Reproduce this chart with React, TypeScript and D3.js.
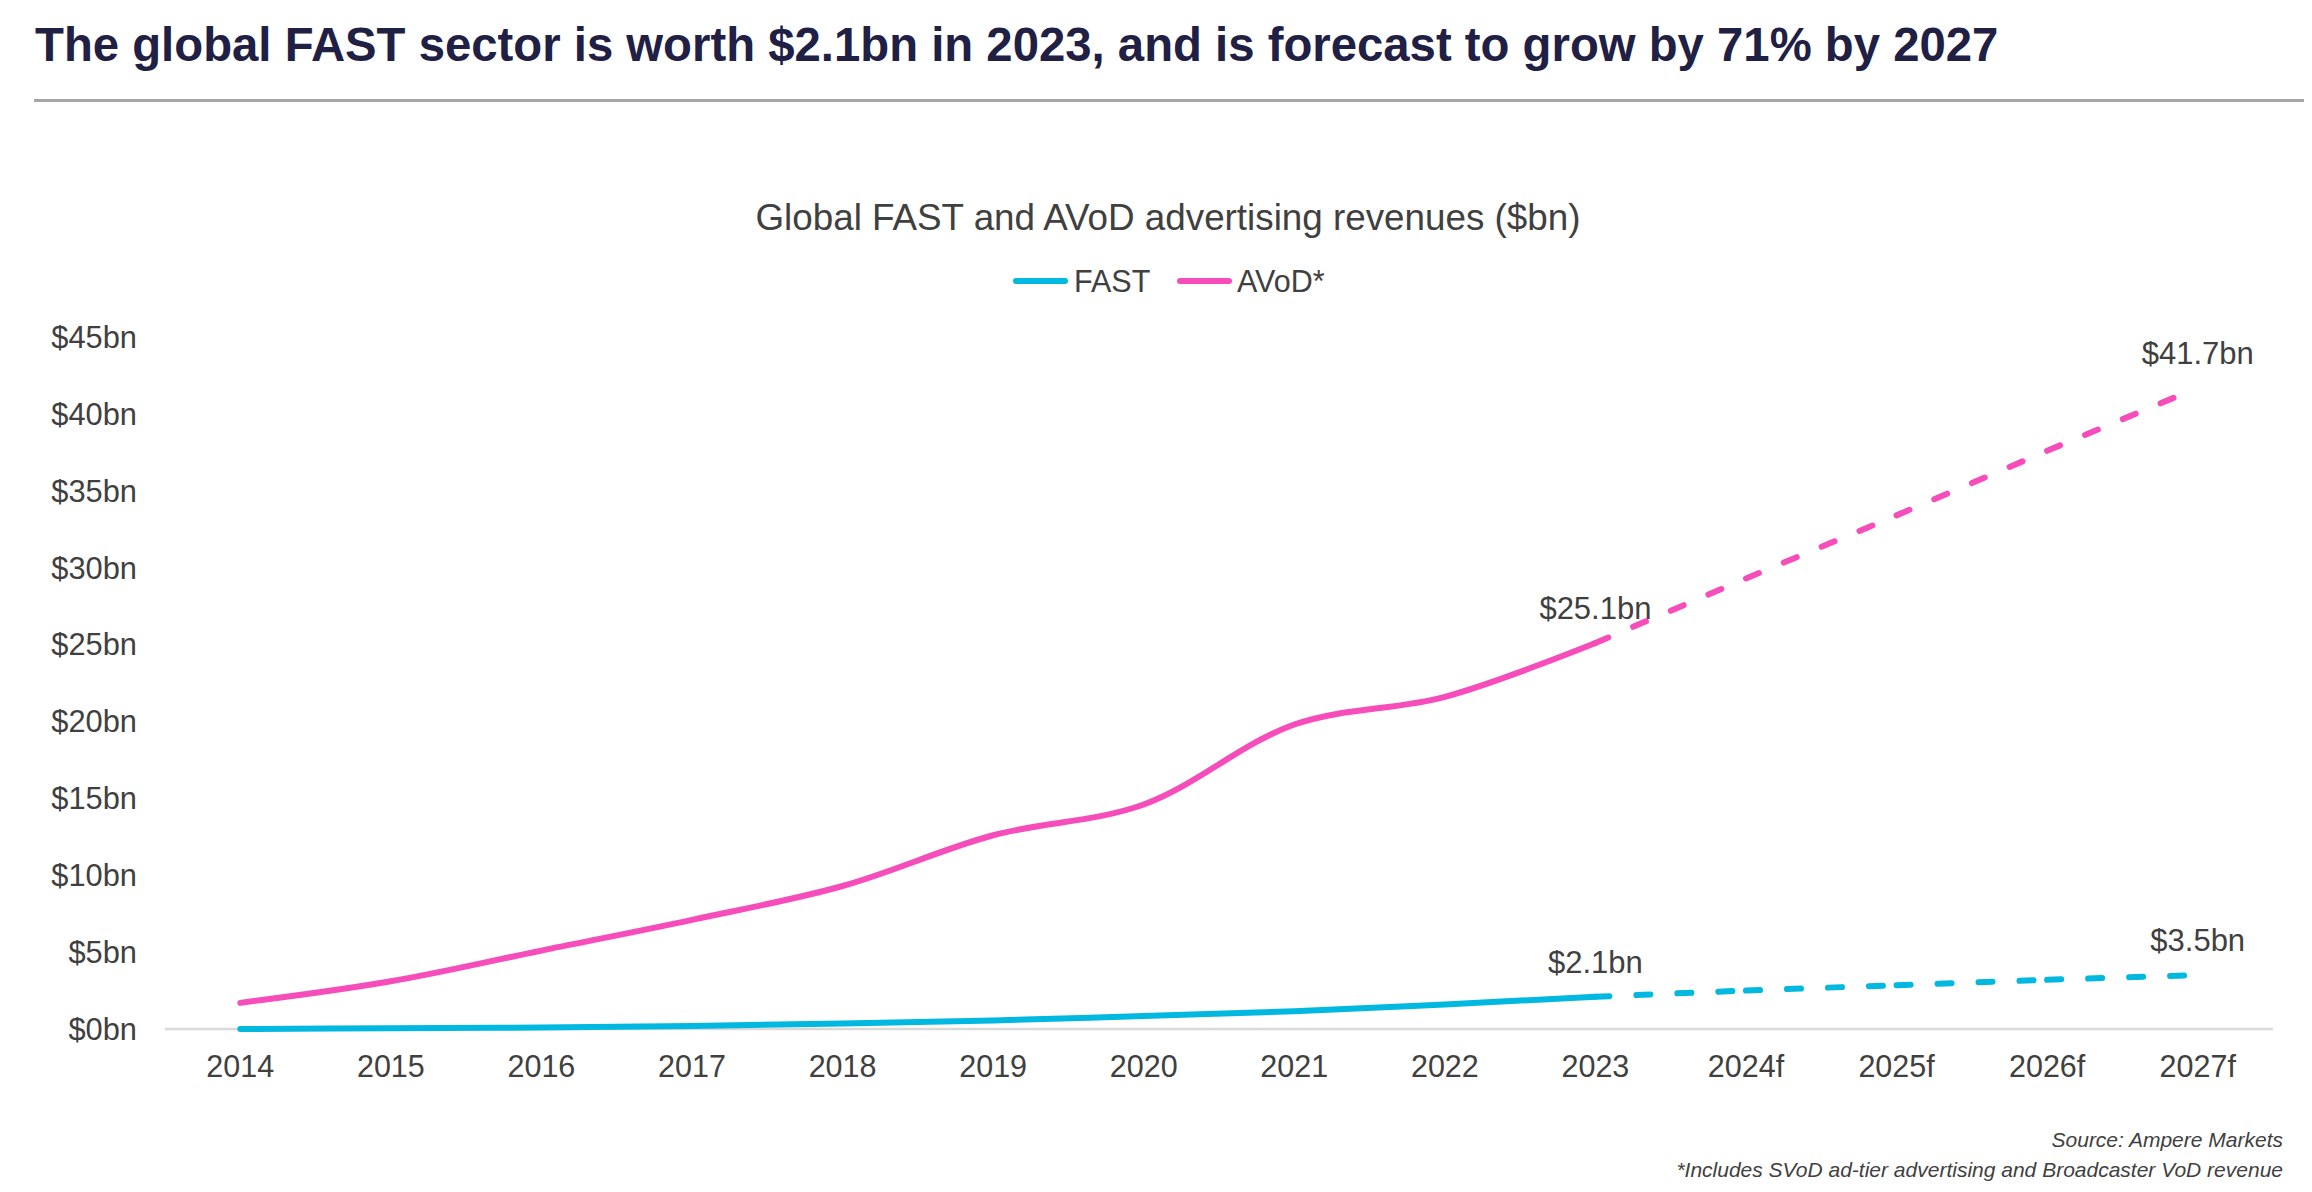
import React from "react";
import * as d3 from "d3";

const categories = ["2014", "2015", "2016", "2017", "2018", "2019", "2020", "2021", "2022", "2023", "2024f", "2025f", "2026f", "2027f"];
const fastValues = [0.0, 0.05, 0.1, 0.2, 0.35, 0.55, 0.85, 1.15, 1.6, 2.1, 2.5, 2.85, 3.2, 3.5];
const avodValues = [1.7, 3.1, 5.1, 7.1, 9.3, 12.6, 14.6, 19.8, 21.6, 25.1, 29.3, 33.4, 37.6, 41.7];
const seriesNames = ["FAST", "AVoD*"];
const seriesColors = ["#00B8E0", "#F64DBA"];
const lastActualIndex = 9;
const labelIndices = [9, 13];
const yTicks = [0, 5, 10, 15, 20, 25, 30, 35, 40, 45];

const titleText = "The global FAST sector is worth $2.1bn in 2023, and is forecast to grow by 71% by 2027";
const chartTitle = "Global FAST and AVoD advertising revenues ($bn)";
const sourceText = "Source: Ampere Markets";
const noteText = "*Includes SVoD ad-tier advertising and Broadcaster VoD revenue";

const W = 2312;
const H = 1192;
const FONT = "'Liberation Sans', Arial, Helvetica, sans-serif";
const TEXT = "#404040";

export default function App() {
  const x = d3.scalePoint<string>().domain(categories).range([165, 2273]).padding(0.5);
  const y = d3.scaleLinear().domain([0, 45]).range([1029, 337]);

  const series = [
    { name: seriesNames[0], values: fastValues, color: seriesColors[0] },
    { name: seriesNames[1], values: avodValues, color: seriesColors[1] },
  ];

  type P = { c: string; v: number };
  const solidLine = d3
    .line<P>()
    .x((d) => x(d.c) as number)
    .y((d) => y(d.v))
    .curve(d3.curveCatmullRom.alpha(0.5));
  const segLine = d3
    .line<P>()
    .x((d) => x(d.c) as number)
    .y((d) => y(d.v));

  const fmt = (v: number) => `$${v.toFixed(1)}bn`;

  const legendItems = [
    { x0: 1016, x1: 1065, tx: 1074 },
    { x0: 1180, x1: 1229, tx: 1237 },
  ];

  return (
    <svg
      width={W}
      height={H}
      viewBox={`0 0 ${W} ${H}`}
      style={{ position: "absolute", left: 0, top: 0, display: "block", background: "#fff" }}
      fontFamily={FONT}
    >
      <rect x={0} y={0} width={W} height={H} fill="#fff" />
      {/* Title */}
      <text x={35} y={61} fontSize={47.3} fontWeight="bold" fill="#1F2044">
        {titleText}
      </text>
      <line x1={34} x2={2304} y1={100.5} y2={100.5} stroke="#A6A6A6" strokeWidth={3} />

      {/* Chart title */}
      <text x={1168} y={230} fontSize={36.8} textAnchor="middle" fill={TEXT}>
        {chartTitle}
      </text>

      {/* Legend */}
      {series.map((s, i) => (
        <g key={s.name}>
          <line
            x1={legendItems[i].x0}
            x2={legendItems[i].x1}
            y1={281}
            y2={281}
            stroke={s.color}
            strokeWidth={6}
            strokeLinecap="round"
          />
          <text x={legendItems[i].tx} y={292} fontSize={30.5} fill={TEXT}>
            {s.name}
          </text>
        </g>
      ))}

      {/* Y axis labels */}
      {yTicks.map((t) => (
        <text key={t} x={137} y={y(t) + 10.9} fontSize={30.8} textAnchor="end" fill={TEXT}>
          {`$${t}bn`}
        </text>
      ))}

      {/* X axis line */}
      <line x1={x.range()[0]} x2={x.range()[1]} y1={y(0)} y2={y(0)} stroke="#D9D9D9" strokeWidth={2.5} />

      {/* X labels */}
      {categories.map((c) => (
        <text key={c} x={x(c)} y={1077} fontSize={30.5} textAnchor="middle" fill={TEXT}>
          {c}
        </text>
      ))}

      {/* Series */}
      {series.map((s) => {
        const pts: P[] = s.values.map((v, i) => ({ c: categories[i], v }));
        const actual = pts.slice(0, lastActualIndex + 1);
        const forecast = pts.slice(lastActualIndex);
        return (
          <g key={s.name}>
            <path
              d={solidLine(actual) || ""}
              fill="none"
              stroke={s.color}
              strokeWidth={6}
              strokeLinecap="round"
              strokeLinejoin="round"
            />
            {forecast.slice(0, -1).map((p, i) => (
              <path
                key={i}
                d={segLine([p, forecast[i + 1]]) || ""}
                fill="none"
                stroke={s.color}
                strokeWidth={6}
                strokeLinecap="round"
                strokeDasharray="14 27"
              />
            ))}
          </g>
        );
      })}

      {/* Data labels */}
      {series.map((s) =>
        labelIndices.map((idx) => (
          <text
            key={s.name + idx}
            x={x(categories[idx])}
            y={y(s.values[idx]) - 24}
            fontSize={31}
            textAnchor="middle"
            fill={TEXT}
          >
            {fmt(s.values[idx])}
          </text>
        ))
      )}

      {/* Source */}
      <text x={2283} y={1147} fontSize={21} fontStyle="italic" textAnchor="end" fill={TEXT}>
        {sourceText}
      </text>
      <text x={2283} y={1177} fontSize={21} fontStyle="italic" textAnchor="end" fill={TEXT}>
        {noteText}
      </text>
    </svg>
  );
}
